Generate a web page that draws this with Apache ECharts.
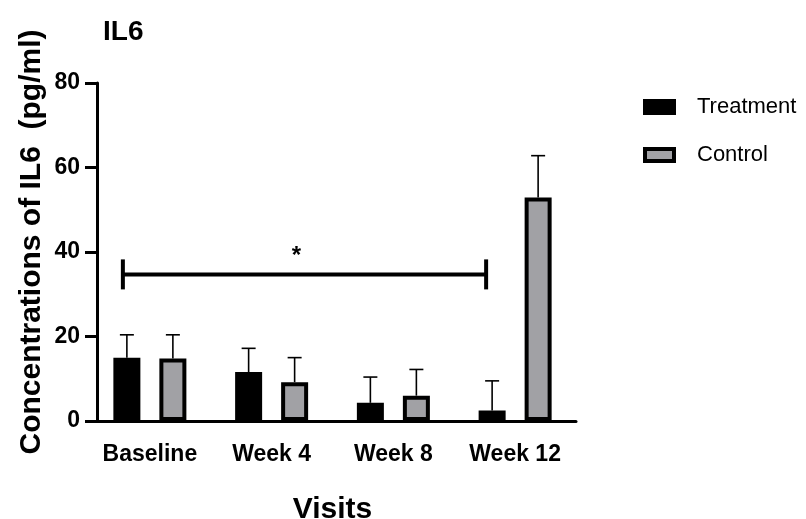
<!DOCTYPE html>
<html>
<head>
<meta charset="utf-8">
<script src="https://cdn.jsdelivr.net/npm/echarts@6/dist/echarts.min.js"></script>
<style>html,body{margin:0;padding:0;background:#fff}#c{width:806px;height:519px}</style>
</head>
<body>
<div id="c"></div>
<script>
const categories = ['Baseline', 'Week 4', 'Week 8', 'Week 12'];
const treatmentMean = [15.0, 11.6, 4.3, 2.5];
const treatmentUpper = [20.4, 17.2, 10.4, 9.5];
const controlMean = [14.8, 9.2, 6.0, 52.9];
const controlUpper = [20.4, 15.0, 12.2, 62.8];
const yTicks = [0, 20, 40, 60, 80];
const sigFrom = 0, sigTo = 3, sigLevel = 34.7, sigLabel = '*';

const FONT = '"Liberation Sans", Arial, Helvetica, sans-serif';
const BAR_W = 27, GAP_PX = 19, OFF = (BAR_W + GAP_PX) / 2;

function errSeries(name, means, uppers, off) {
  return {
    type: 'custom', name: name + ' SD', silent: true, z: 3,
    data: means.map((m, i) => [i, m, uppers[i]]),
    renderItem: function (params, api) {
      const p1 = api.coord([api.value(0), api.value(1)]);
      const p2 = api.coord([api.value(0), api.value(2)]);
      const cx = p1[0] + off;
      const st = { stroke: '#000', lineWidth: 1.6 };
      return { type: 'group', children: [
        { type: 'line', shape: { x1: cx, y1: p1[1], x2: cx, y2: p2[1] }, style: st },
        { type: 'line', shape: { x1: cx - 7, y1: p2[1], x2: cx + 7, y2: p2[1] }, style: st }
      ]};
    }
  };
}

const chart = echarts.init(document.getElementById('c'));
chart.setOption({
  backgroundColor: '#fff',
  animation: false,
  title: { text: 'IL6', left: 98, top: 13, textStyle: { fontFamily: FONT, fontSize: 28, fontWeight: 'bold', color: '#000' } },
  legend: {
    orient: 'vertical', left: 638, top: 91, itemWidth: 29, itemHeight: 12, itemGap: 26,
    icon: 'rect',
    textStyle: { fontFamily: FONT, fontSize: 22, color: '#000', padding: [0, 0, 0, 18] },
    data: [
      { name: 'Treatment', itemStyle: { color: '#000', borderColor: '#000', borderWidth: 4 } },
      { name: 'Control', itemStyle: { color: '#a1a1a5', borderColor: '#000', borderWidth: 4 } }
    ]
  },
  grid: { left: 89, right: 230, top: 83, bottom: 98, outerBoundsMode: 'none', containLabel: false },
  xAxis: {
    type: 'category', data: categories,
    name: 'Visits', nameLocation: 'middle', nameGap: 74, nameMoveOverlap: false,
    nameTextStyle: { fontFamily: FONT, fontSize: 30, fontWeight: 'bold', color: '#000' },
    axisLine: { lineStyle: { color: '#000', width: 3 } },
    axisTick: { alignWithLabel: true, length: 13, lineStyle: { color: '#000', width: 3 } },
    axisLabel: { interval: 0, margin: 22, fontFamily: FONT, fontSize: 23, fontWeight: 'bold', color: '#000' }
  },
  yAxis: {
    type: 'value', min: yTicks[0], max: yTicks[yTicks.length - 1], interval: 20, offset: -8,
    name: 'Concentrations of IL6  (pg/ml)', nameLocation: 'middle', nameGap: 50, nameRotate: 90, nameMoveOverlap: false,
    nameTextStyle: { fontFamily: FONT, fontSize: 30, fontWeight: 'bold', color: '#000', padding: [0, 0, 0, 20] },
    axisLine: { show: true, lineStyle: { color: '#000', width: 3 } },
    axisTick: { show: true, length: 12, lineStyle: { color: '#000', width: 3 } },
    axisLabel: { margin: 17, fontFamily: FONT, fontSize: 23, fontWeight: 'bold', color: '#000' },
    splitLine: { show: false }
  },
  series: [
    { name: 'Treatment', type: 'bar', data: treatmentMean, barWidth: BAR_W, barGap: (GAP_PX / BAR_W * 100) + '%',
      itemStyle: { color: '#000', borderColor: '#000', borderWidth: 4 } },
    { name: 'Control', type: 'bar', data: controlMean, barWidth: BAR_W,
      itemStyle: { color: '#a1a1a5', borderColor: '#000', borderWidth: 4 } },
    errSeries('Treatment', treatmentMean, treatmentUpper, -OFF),
    errSeries('Control', controlMean, controlUpper, OFF),
    {
      type: 'custom', name: 'sig', silent: true, z: 4,
      data: [[sigFrom, sigTo, sigLevel]],
      renderItem: function (params, api) {
        const a = api.coord([api.value(0), api.value(2)]);
        const b = api.coord([api.value(1), api.value(2)]);
        const x1 = a[0] - 27, x2 = b[0] - 29, y = a[1];
        const st = { stroke: '#000', lineWidth: 4 };
        return { type: 'group', children: [
          { type: 'line', shape: { x1: x1, y1: y, x2: x2, y2: y }, style: st },
          { type: 'line', shape: { x1: x1, y1: y - 15, x2: x1, y2: y + 15 }, style: st },
          { type: 'line', shape: { x1: x2, y1: y - 15, x2: x2, y2: y + 15 }, style: st },
          { type: 'text', x: (x1 + x2) / 2 - 8, y: y - 18, style: { text: sigLabel, font: 'bold 24px ' + FONT, fill: '#000', align: 'center', verticalAlign: 'middle' } }
        ]};
      }
    }
  ]
});
</script>
</body>
</html>
